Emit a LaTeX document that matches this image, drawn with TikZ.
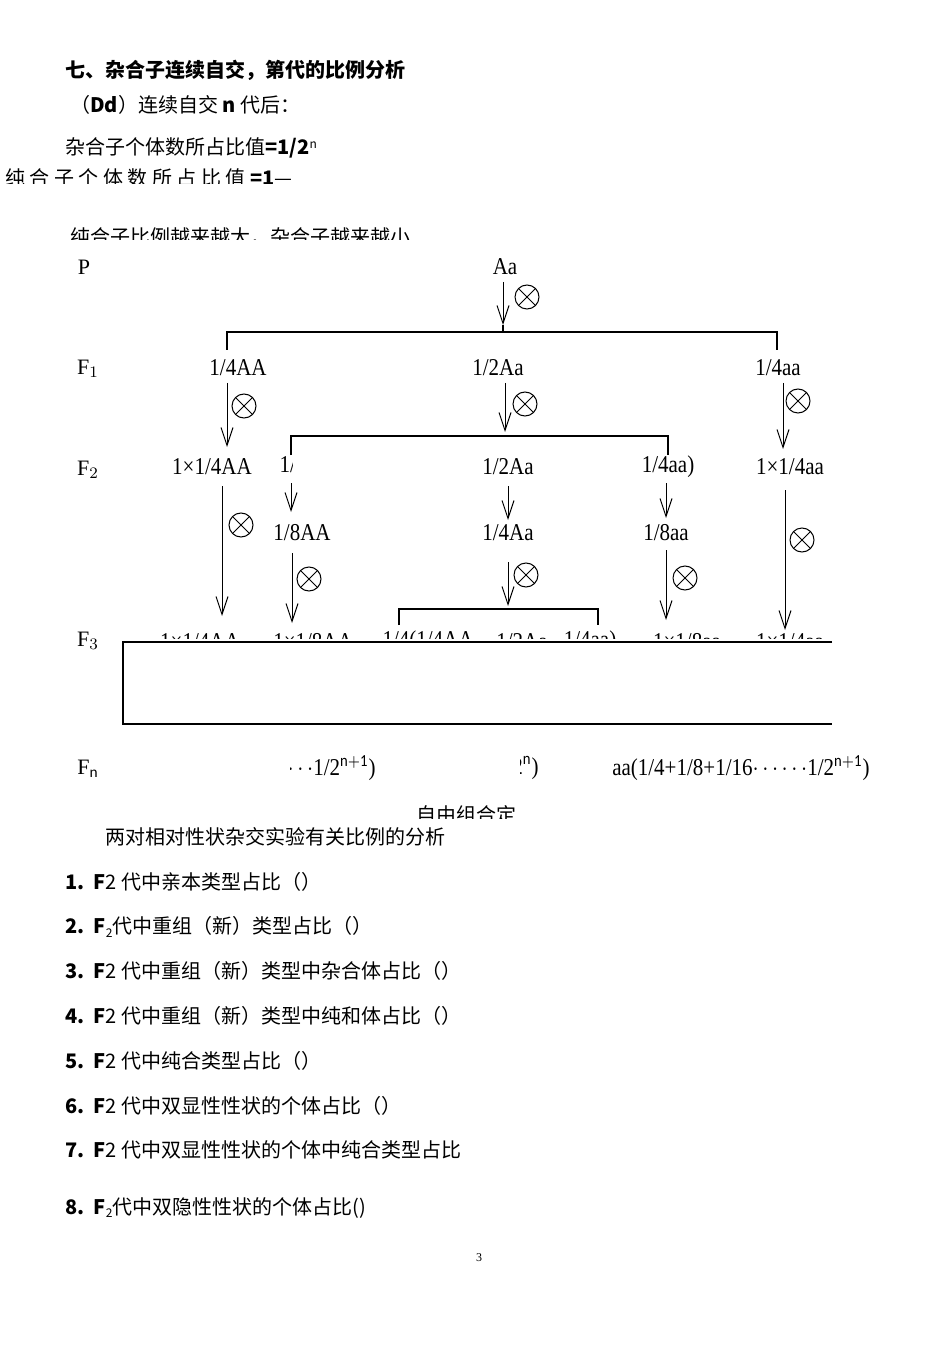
\documentclass[tikz,border=0pt]{standalone}
\usepackage{fontspec}
\setmainfont{Carlito}
\newfontfamily\cjk{Noto Sans CJK SC}
\newfontfamily\ser{Liberation Serif}
\usetikzlibrary{arrows.meta}
\begin{document}
\begin{tikzpicture}[x=0.5pt,y=-0.5pt,
  txt/.style={anchor=west,inner sep=0,font=\cjk\fontsize{10}{12}\selectfont},
  lab/.style={inner sep=0,yscale=1.15,font=\ser\fontsize{10.5}{12}\selectfont},
  gen/.style={inner sep=0,font=\ser\fontsize{11}{12}\selectfont},
  arr/.style={-{Straight Barb[length=9pt,width=6pt]},line width=0.5pt},
  brk/.style={line width=0.6pt},
  selfx/.style={draw,circle,minimum size=12pt,inner sep=0,line width=0.5pt,
    path picture={\draw[line width=0.5pt] (path picture bounding box.north west)--(path picture bounding box.south east)
      (path picture bounding box.north east)--(path picture bounding box.south west);}}]
\useasboundingbox (0,0) rectangle (950,1352);
% heading text
\node[txt,font=\cjk\bfseries\fontsize{10}{12}\selectfont] (t1) at (65,70) {七、杂合子连续自交，第代的比例分析};
\node[txt] (t2) at (70,105) {（\textbf{Dd}）连续自交 \textbf{n} 代后：};
\node[txt] (t3) at (65,148) {杂合子个体数所占比值\textbf{=1/2}\raisebox{0.6ex}{\fontsize{6}{6}\selectfont n}};
\begin{scope}
\clip (0,160) rectangle (950,184);
\node[txt] (t4) at (5,178) {纯 合 子 个 体 数 所 占 比 值 \textbf{=1}—};
\end{scope}
\begin{scope}
\clip (0,220) rectangle (950,240);
\node[txt] (t5) at (70,237) {纯合子比例越来越大，杂合子越来越小};
\end{scope}
% generation labels
\node[gen] (gP) at (84,267) {P};
\node[gen] (g1) at (88,369) {F$_{\scriptstyle1}$};
\node[gen] (g2) at (88,470) {F$_{\scriptstyle2}$};
\node[gen] (g3) at (88,641) {F$_{\scriptstyle3}$};
\node[gen] (gn) at (88,769) {F$_{\scriptstyle\mathrm{n}}$};
% P
\node[lab] (Aa) at (505,267) {Aa};
\draw[arr] (503,282) -- (503,325);
\node[selfx] (x0) at (527,297) {};
\draw[brk] (227,350) |- (777,332) -- (777,350);
\draw[brk] (503,325) -- (503,332);
% F1
\node[lab] (f1a) at (238,368) {1/4AA};
\node[lab] (f1b) at (498,368) {1/2Aa};
\node[lab] (f1c) at (778,368) {1/4aa};
\draw[arr] (227,383) -- (227,447); \node[selfx] (x1) at (244,406) {};
\draw[arr] (505,383) -- (505,432); \node[selfx] (x2) at (525,404) {};
\draw[arr] (783,383) -- (783,449); \node[selfx] (x3) at (798,401) {};
\draw[brk] (291,455) |- (668,436) -- (668,455);
% F2
\node[lab] (f2a) at (212,467) {1×1/4AA};
\begin{scope}\clip (280,450) rectangle (292,480);
\node[lab] (f2b) at (325,467) {1/2(1/4AA};\end{scope}
\node[lab] (f2c) at (508,467) {1/2Aa};
\node[lab] (f2d) at (668,467) {1/4aa)};
\node[lab] (f2e) at (790,467) {1×1/4aa};
\draw[arr] (291,483) -- (291,512);
\draw[arr] (508,486) -- (508,520);
\draw[arr] (666,483) -- (666,518);
\node[lab] (f2f) at (302,533) {1/8AA};
\node[lab] (f2g) at (508,533) {1/4Aa};
\node[lab] (f2h) at (666,533) {1/8aa};
\draw[arr] (222,486) -- (222,616); \node[selfx] (x4) at (241,525) {};
\draw[arr] (785,490) -- (785,630); \node[selfx] (x5) at (802,540) {};
\draw[arr] (292,553) -- (292,623); \node[selfx] (x6) at (309,579) {};
\draw[arr] (508,562) -- (508,606); \node[selfx] (x7) at (526,575) {};
\draw[arr] (666,550) -- (666,620); \node[selfx] (x8) at (685,578) {};
\draw[brk] (399,625) |- (598,609) -- (598,625);
% F3 clipped row
\begin{scope}\clip (100,620) rectangle (900,638);
\node[lab] (r1) at (200,642) {1×1/4AA};
\node[lab] (r2) at (313,642) {1×1/8AA};
\node[lab] (r3) at (428,642) {1/4(1/4AA};
\node[lab] (r4) at (522,642) {1/2Aa};
\node[lab] (r5) at (590,642) {1/4aa)};
\node[lab] (r6) at (687,642) {1×1/8aa};
\node[lab] (r7) at (790,642) {1×1/4aa};
\end{scope}
\draw[line width=0.7pt] (832,642) -| (123,724) -- (832,724);
% Fn
\begin{scope}\clip (290,740) rectangle (380,790);
\node[lab,anchor=east] (n1) at (376,768) {AA(1/4+1/8+1/16$\cdots\cdots$1/2$^{\mathrm{n+1}}$)};\end{scope}
\begin{scope}\clip (520,740) rectangle (545,790);
\node[lab,anchor=east] (n2) at (539,768) {Aa(1/2$^{\mathrm{n}}$)};\end{scope}
\node[lab,anchor=east] (n3) at (870,768) {aa(1/4+1/8+1/16$\cdots\cdots$1/2$^{\mathrm{n+1}}$)};
\begin{scope}\clip (400,800) rectangle (540,818);
\node[txt] (t6) at (416,815) {自由组合定};\end{scope}
\node[txt] (t7) at (105,837) {两对相对性状杂交实验有关比例的分析};
% list
\node[txt] (l1) at (65,882) {\textbf{1.\ \ F}2 代中亲本类型占比（）};
\node[txt] (l2) at (65,927) {\textbf{2.\ \ F}\raisebox{-0.3ex}{\fontsize{6}{6}\selectfont 2}代中重组（新）类型占比（）};
\node[txt] (l3) at (65,971) {\textbf{3.\ \ F}2 代中重组（新）类型中杂合体占比（）};
\node[txt] (l4) at (65,1016) {\textbf{4.\ \ F}2 代中重组（新）类型中纯和体占比（）};
\node[txt] (l5) at (65,1061) {\textbf{5.\ \ F}2 代中纯合类型占比（）};
\node[txt] (l6) at (65,1106) {\textbf{6.\ \ F}2 代中双显性性状的个体占比（）};
\node[txt] (l7) at (65,1150) {\textbf{7.\ \ F}2 代中双显性性状的个体中纯合类型占比};
\node[txt] (l8) at (65,1208) {\textbf{8.\ \ F}\raisebox{-0.3ex}{\fontsize{6}{6}\selectfont 2}代中双隐性性状的个体占比()};
\node[inner sep=0,font=\ser\fontsize{6}{7}\selectfont] (pg) at (479,1258) {3};
\end{tikzpicture}
\end{document}
